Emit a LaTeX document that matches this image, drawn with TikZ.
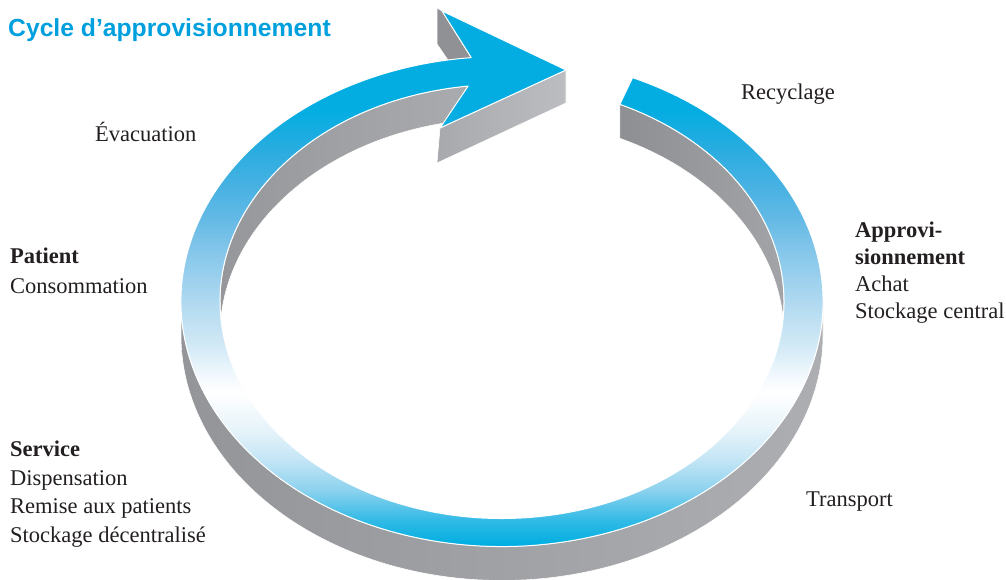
\documentclass[tikz,border=0pt]{standalone}
\usepackage{fontspec}
\setmainfont{Liberation Serif}
\newfontfamily\titlefont{Liberation Sans}
\definecolor{txt}{RGB}{35,31,32}
\definecolor{titleblue}{RGB}{0,160,222}
\definecolor{sA}{RGB}{0,174,225}
\definecolor{sB}{RGB}{50,186,230}
\definecolor{sC}{RGB}{140,210,238}
\definecolor{sD}{RGB}{195,229,245}
\definecolor{sE}{RGB}{230,243,250}
\definecolor{sF}{RGB}{255,255,255}
\definecolor{sG}{RGB}{236,246,252}
\definecolor{sH}{RGB}{214,235,247}
\definecolor{sI}{RGB}{188,223,242}
\definecolor{sJ}{RGB}{160,210,238}
\definecolor{sK}{RGB}{132,198,234}
\definecolor{sL}{RGB}{98,185,229}
\definecolor{sM}{RGB}{69,177,226}
\definecolor{sN}{RGB}{42,172,224}
\definecolor{sO}{RGB}{3,173,226}
\definecolor{wallL}{RGB}{147,149,152}
\definecolor{wallR}{RGB}{173,174,177}
\definecolor{inLL}{RGB}{150,151,154}
\definecolor{inLR}{RGB}{170,171,174}
\definecolor{inRL}{RGB}{141,143,146}
\definecolor{inRR}{RGB}{163,164,167}
\definecolor{backgrey}{RGB}{143,145,148}
\definecolor{frontL}{RGB}{168,169,172}
\definecolor{frontR}{RGB}{188,189,192}
\pgfdeclareverticalshading{ringshade}{100bp}{color(0bp)=(sA); color(28.02bp)=(sA); color(30.17bp)=(sB); color(32.76bp)=(sC); color(35.34bp)=(sD); color(37.93bp)=(sE); color(41.21bp)=(sF); color(43.10bp)=(sG); color(44.83bp)=(sH); color(47.67bp)=(sI); color(50.60bp)=(sJ); color(53.45bp)=(sK); color(56.29bp)=(sL); color(59.22bp)=(sM); color(62.07bp)=(sN); color(65.52bp)=(sO); color(100bp)=(sO)}
\begin{document}
\begin{tikzpicture}[x=1pt,y=1pt,
  lbl/.style={inner sep=0pt, anchor=base west, text=txt, font=\fontsize{22.5}{27}\selectfont},
  lblb/.style={inner sep=0pt, anchor=base west, text=txt, font=\fontsize{22.5}{27}\selectfont\bfseries},
  wallline/.style={draw=white, line width=0.6pt}]
\useasboundingbox (0,0) rectangle (1006,580);
\coordinate (C) at (502,278.5);
\path (C) ++(66:321pt and 245pt) coordinate (o1);
\path (C) ++(96.9:282pt and 217pt) coordinate (NL);
\path (C) ++(180:321pt and 245pt) coordinate (oL);
\path (C) ++(180:282pt and 217pt) coordinate (iL);
\path (C) ++(65.3:282pt and 217pt) coordinate (i1);
\path (C) ++(95.5:321pt and 245pt) coordinate (NU);
\coordinate (U) at (442,569);
\coordinate (T) at (566,510);
\coordinate (L) at (440,452);
\coordinate (Lb) at (437,417);
\coordinate (Tb) at (566,477);
\coordinate (Ub) at (437,572);
\coordinate (Uc) at (437,536);
\coordinate (Ud) at (450,517);
% outer near wall
\shadedraw[left color=wallL, right color=wallR, wallline] (oL) arc[start angle=180,end angle=360,x radius=321pt,y radius=245pt] -- ++(0,-34) arc[start angle=360,end angle=180,x radius=321pt,y radius=245pt] -- cycle;
% inner far walls
\shadedraw[left color=inLL, right color=inLR, wallline] (iL) arc[start angle=180,end angle=96.9,x radius=282pt,y radius=217pt] -- ++(0,-34) arc[start angle=96.9,end angle=180,x radius=282pt,y radius=217pt] -- cycle;
\shadedraw[left color=inRL, right color=inRR, wallline] (i1) arc[start angle=65.3,end angle=0,x radius=282pt,y radius=217pt] -- ++(0,-34) arc[start angle=0,end angle=65.3,x radius=282pt,y radius=217pt] -- cycle;
% arrow head side faces
\filldraw[fill=backgrey, wallline] (Ub) -- (U) -- (NU) -- (Ud) -- (Uc) -- cycle;
\shadedraw[left color=frontL, right color=frontR, wallline] (T) -- (L) -- (Lb) -- (Tb) -- cycle;
% top face
\def\topfacepath{(o1) arc[start angle=66,end angle=-264.5,x radius=321pt,y radius=245pt] -- (U) -- (T) -- (L) -- (NL) arc[start angle=-263.1,end angle=65.3,x radius=282pt,y radius=217pt] -- cycle}
\begin{scope}
\clip \topfacepath;
\shade[shading=ringshade] (0,0) rectangle (1006,580);
\end{scope}
\draw[white, line width=1pt, line join=round] \topfacepath;
% texts
\node[inner sep=0pt, anchor=base west, text=titleblue, font={\titlefont\bfseries\fontsize{24.7}{28}\selectfont}] (title) at (8,543) {Cycle d’approvisionnement};
\node[lbl] (evac) at (95,438) {Évacuation};
\node[lbl] (recy) at (741,480) {Recyclage};
\node[lblb] (pat1) at (10,316) {Patient};
\node[lbl] (pat2) at (10,286) {Consommation};
\node[lblb] (serv1) at (10,123) {Service};
\node[lbl] (serv2) at (10,94) {Dispensation};
\node[lbl] (serv3) at (10,66) {Remise aux patients};
\node[lbl] (serv4) at (10,37) {Stockage décentralisé};
\node[lblb] (app1) at (855,342) {Approvi-};
\node[lblb] (app2) at (855,315) {sionnement};
\node[lbl] (app3) at (855,288) {Achat};
\node[lbl] (app4) at (855,261) {Stockage central};
\node[lbl] (transp) at (806,73) {Transport};
\end{tikzpicture}
\end{document}
